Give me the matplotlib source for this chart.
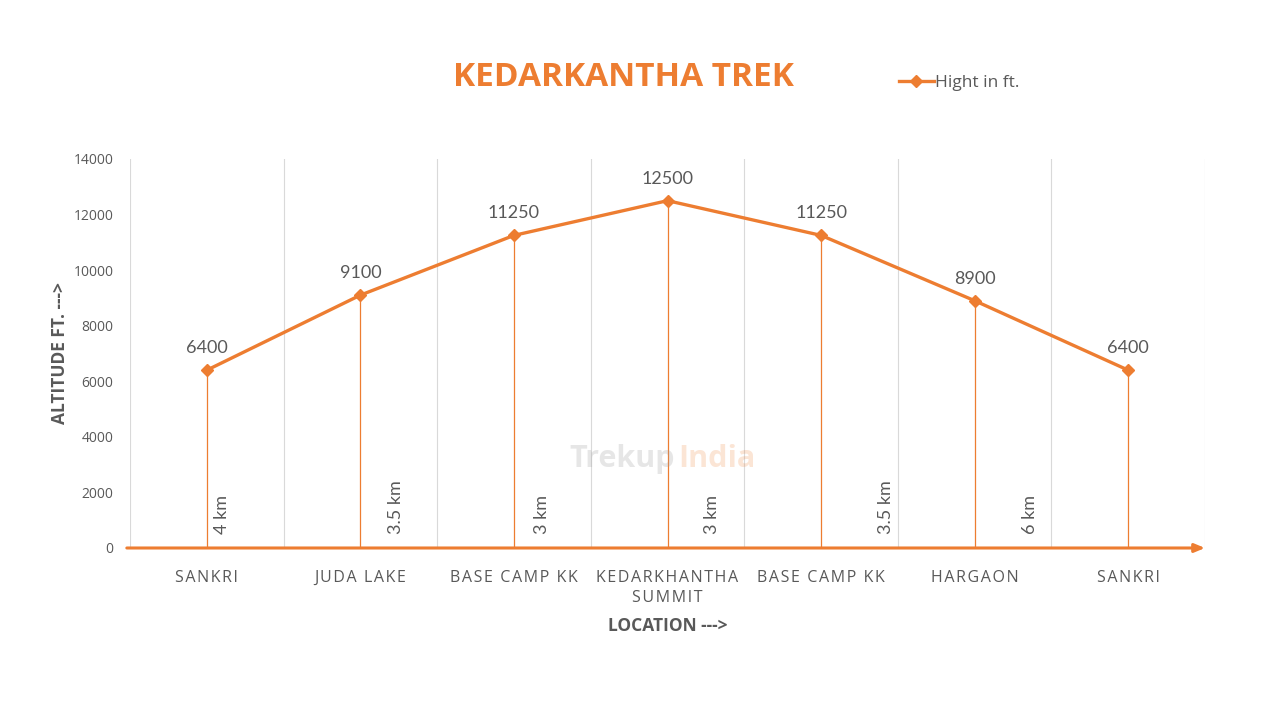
import numpy as np
import matplotlib.pyplot as plt

locations = ["SANKRI", "JUDA LAKE", "BASE CAMP KK", "KEDARKHANTHA\nSUMMIT",
             "BASE CAMP KK", "HARGAON", "SANKRI"]
heights = [6400, 9100, 11250, 12500, 11250, 8900, 6400]
distances = ["4 km", "3.5 km", "3 km", "3 km", "3.5 km", "6 km"]
dist_offset = [0.10, 0.23, 0.18, 0.29, 0.42, 0.36]

orange = "#ED7D31"
grey = "#595959"
plt.rcParams['font.family'] = ['Open Sans', 'DejaVu Sans']


def spaced(s):
    # excel-like letter spacing with hair spaces
    return "\n".join("\u200a".join(line) for line in s.split("\n"))


fig = plt.figure(figsize=(12.8, 7.2), dpi=100)
ax = fig.add_axes([0.1016, 0.2389, 0.8398, 0.5403])
x = np.arange(len(locations))

ax.set_xlim(-0.5, len(locations) - 0.5)
ax.set_ylim(0, 14000)

# vertical gridlines at category edges
for b in np.arange(-0.5, len(locations), 1.0):
    ax.axvline(b, color="#D9D9D9", lw=0.8, zorder=0)

# drop lines
ax.vlines(x, 0, heights, color=orange, lw=0.9, zorder=1)

ax.plot(x, heights, color=orange, lw=2.4, marker="D", markersize=6, zorder=3,
        label="Hight in ft.")

for xi, h in zip(x, heights):
    ax.text(xi, h + 500, str(h), ha="center", va="bottom", fontsize=13,
            color=grey, family="Lato")

for i, (d, off) in enumerate(zip(distances, dist_offset)):
    ax.text(i + off, 500, d, rotation=90, ha="center", va="bottom",
            fontsize=13, color=grey, family="Lato")

for s in ax.spines.values():
    s.set_visible(False)
ax.annotate("", xy=(1.0, 0), xytext=(-0.003, 0), xycoords="axes fraction",
            arrowprops=dict(arrowstyle="-|>,head_length=0.6,head_width=0.25",
                            color=orange, lw=2.2, shrinkA=0, shrinkB=0), zorder=4)

ax.set_xticks(x)
ax.set_xticklabels([spaced(l) for l in locations], fontsize=11.5, color=grey,
                   linespacing=1.3)
ax.set_yticks(np.arange(0, 14001, 2000))
ax.set_yticklabels([str(v) for v in range(0, 14001, 2000)], fontsize=10, color=grey)
ax.tick_params(axis="both", length=0)
ax.tick_params(axis="x", pad=16)
ax.tick_params(axis="y", pad=12)

ax.set_ylabel("ALTITUDE FT. --->", fontsize=12.5, fontweight="bold", color=grey,
              labelpad=3)
ax.set_xlabel("LOCATION --->", fontsize=12.5, fontweight="bold", color=grey,
              labelpad=8)

fig.text(0.487, 0.892, "KEDARKANTHA TREK", ha="center", va="center",
         fontsize=24, fontweight="bold", color=orange)

leg = fig.legend(loc="center left", bbox_to_anchor=(0.69, 0.885), frameon=False,
                 fontsize=12.5, handlelength=2.0, handletextpad=0.1)
for t in leg.get_texts():
    t.set_color(grey)

# faint watermark
fig.text(0.527, 0.362, "Trekup", ha="right", va="center", fontsize=22,
         fontweight="bold", color="#9E9E9E", alpha=0.25)
fig.text(0.530, 0.362, "India", ha="left", va="center", fontsize=22,
         fontweight="bold", color=orange, alpha=0.2)

fig.savefig("out.png", dpi=100)
